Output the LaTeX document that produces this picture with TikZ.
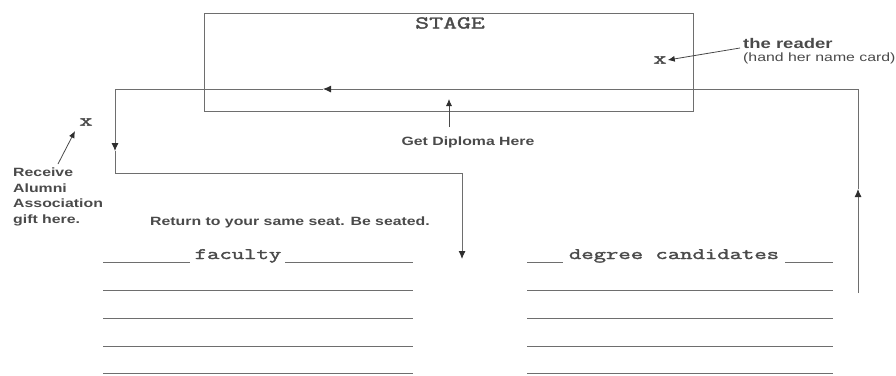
\documentclass[tikz,border=0pt]{standalone}
\usepackage{fontspec}
\setmainfont{Liberation Sans}
\newfontfamily\labfont[FakeStretch=1.32]{Liberation Sans}
\newfontfamily\monofont[FakeStretch=1.5, FakeBold=2]{Latin Modern Mono}
\usetikzlibrary{arrows.meta}
\definecolor{linegray}{HTML}{6E6E6E}
\definecolor{txtgray}{HTML}{4A4A4A}
\definecolor{tipgray}{HTML}{2E2E2E}
\tikzset{
  route/.style={draw=linegray, line width=0.9pt},
  tip/.style={-{Latex[length=8pt,width=7pt,color=tipgray]}},
  conn/.style={draw=txtgray, line width=0.8pt, -{Latex[length=7pt,width=6pt,color=tipgray]}},
  lab/.style={font=\labfont\bfseries\fontsize{12}{15.5}\selectfont, text=txtgray, inner sep=0pt},
  labreg/.style={font=\labfont\fontsize{12}{14}\selectfont, text=txtgray, inner sep=0pt},
  monolab/.style={font=\monofont\fontsize{16}{16}\selectfont, text=txtgray, inner sep=0pt},
  xmark/.style={font=\monofont\fontsize{17}{17}\selectfont, text=txtgray, inner sep=1pt},
  seat/.style={draw=linegray, line width=0.9pt},
}
\begin{document}
\begin{tikzpicture}[x=1pt,y=-1pt]
\useasboundingbox (0,0) rectangle (896,375);
% stage
\node[draw=linegray, line width=0.9pt, minimum width=489pt, minimum height=98pt, inner sep=0pt] (stage) at (448.5,62) {};
\node[font=\monofont\fontsize{18}{18}\selectfont, text=txtgray, inner sep=0pt] (stagelbl) at (450,23) {STAGE};
% reader
\node[xmark] (readerx) at (660,60) {x};
\node[anchor=base west, font=\labfont\bfseries\fontsize{14}{16}\selectfont, text=txtgray, inner sep=0pt] (reader) at (743,48) {the reader};
\node[anchor=base west, labreg] (card) at (743,61) {(hand her name card)};
\draw[conn] ([xshift=-3pt]reader.base west) -- (readerx.east);
% route
\coordinate (r0) at (858,293);
\coordinate (m1) at (858,189);
\coordinate (r1) at (858,89);
\coordinate (m2) at (323,89);
\coordinate (r2) at (115,89);
\coordinate (m3) at (115,151);
\coordinate (r3) at (115,173);
\coordinate (r4) at (462,173);
\coordinate (r5) at (462,259);
\draw[route, tip] (r0) -- (m1);
\draw[route] (m1) -- (r1);
\draw[route, tip] (r1) -- (m2);
\draw[route] (m2) -- (r2);
\draw[route, tip] (r2) -- (m3);
\draw[route] (m3) -- (r3);
\draw[route, tip] (r3) -- (r4) -- (r5);
% diploma
\node[lab] (diploma) at (468,142) {Get Diploma Here};
\coordinate (dipbase) at (449,127);
\coordinate (diptip) at (449,99);
\draw[conn] (dipbase) -- (diptip);
% alumni gift
\node[xmark] (giftx) at (86,122) {x};
\node[lab, anchor=north west, align=left] (gift) at (13,168) {Receive\\Alumni\\Association\\gift here.};
\coordinate (giftfrom) at (58,164);
\coordinate (gifttip) at (75,131);
\draw[conn] (giftfrom) -- (gifttip);
% return
\node[lab, anchor=west] (ret) at (150,222) {Return to your same seat. Be seated.};
% faculty
\node[monolab, anchor=base] (faculty) at (238,259) {faculty};
\draw[seat] (103,262) -- (190,262);
\draw[seat] (285,262) -- (413,262);
\foreach \yy in {290,318,346,373} \draw[seat] (103,\yy) -- (413,\yy);
% degree candidates
\node[monolab, anchor=base] (degree) at (674,259) {degree candidates};
\draw[seat] (527,262) -- (563,262);
\draw[seat] (785,262) -- (833,262);
\foreach \yy in {290,318,346,373} \draw[seat] (527,\yy) -- (833,\yy);
\end{tikzpicture}
\end{document}
